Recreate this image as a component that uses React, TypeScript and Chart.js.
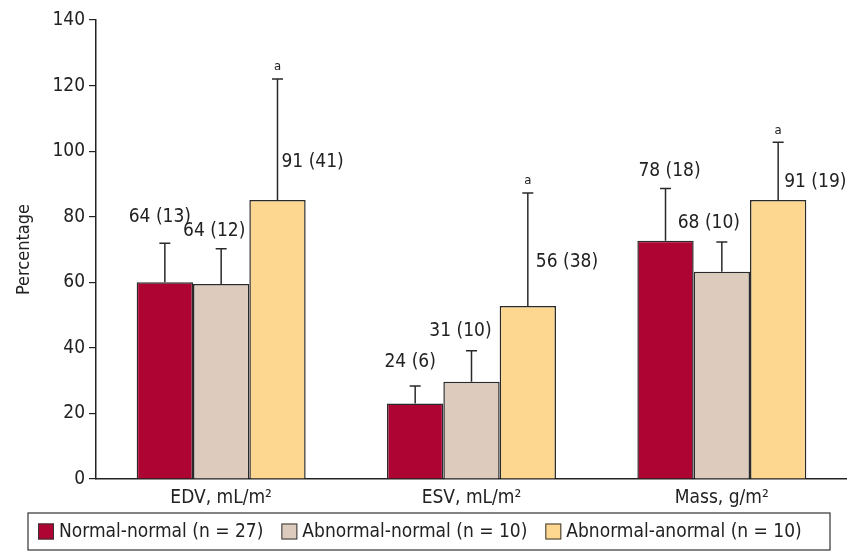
import React, { useEffect, useRef } from "react";
import { Chart, registerables } from "chart.js";

Chart.register(...registerables);

// ---------- data ----------
const categories = ["EDV, mL/m²", "ESV, mL/m²", "Mass, g/m²"];
const seriesNames = [
  "Normal-normal (n = 27)",
  "Abnormal-normal (n = 10)",
  "Abnormal-anormal (n = 10)",
];
const normalNormal = [60, 23, 72.7];
const abnormalNormal = [59.5, 29.7, 63.2];
const abnormalAnormal = [85.1, 52.8, 85.1];

const normalNormalUpper = [71.9, 28.4, 88.6];
const abnormalNormalUpper = [70.2, 39.1, 72.3];
const abnormalAnormalUpper = [122, 87.2, 102.7];

const normalNormalLabels = ["64 (13)", "24 (6)", "78 (18)"];
const abnormalNormalLabels = ["64 (12)", "31 (10)", "68 (10)"];
const abnormalAnormalLabels = ["91 (41)", "56 (38)", "91 (19)"];

const normalNormalSig = ["", "", ""];
const abnormalNormalSig = ["", "", ""];
const abnormalAnormalSig = ["a", "a", "a"];

const yMin = 0;
const yMax = 140;
const yStep = 20;

// ---------- styles ----------
const FONT = "'DejaVu Sans Condensed', 'Liberation Sans Narrow', 'Arial Narrow', sans-serif";
const TEXT = "#222";
const COLORS = ["#AE0433", "#DDCBBD", "#FDD78F"];
// label placement: [anchor, dx, dy]; anchor "err" = centered above whisker, "bar" = right of whisker above bar top
const LABEL_STYLE = [
  [["err", -5, -26], ["err", -5, -24], ["err", 4, -17]],
  [["err", -7, -18], ["err", -11, -20], ["err", -13, -19]],
  [["bar", 4, -38], ["bar", 8, -44], ["bar", 6, -18]],
];

const annotPlugin = {
  id: "annot",
  afterDatasetsDraw(chart: any) {
    const ctx = chart.ctx;
    const ys = chart.scales.y;
    chart.data.datasets.forEach((ds: any, i: number) => {
      const meta = chart.getDatasetMeta(i);
      meta.data.forEach((bar: any, j: number) => {
        const top = ys.getPixelForValue(ds.upper[j]);
        ctx.save();
        ctx.strokeStyle = "#2a2a2a";
        ctx.lineWidth = 1.5;
        ctx.beginPath();
        ctx.moveTo(bar.x, bar.y);
        ctx.lineTo(bar.x, top);
        ctx.moveTo(bar.x - 5.5, top);
        ctx.lineTo(bar.x + 5.5, top);
        ctx.stroke();

        ctx.fillStyle = TEXT;
        ctx.textBaseline = "middle";
        if (ds.sig[j]) {
          ctx.font = `13px ${FONT}`;
          ctx.textAlign = "center";
          ctx.fillText(ds.sig[j], bar.x, top - 12);
        }
        const [anchor, dx, dy] = LABEL_STYLE[i][j] as [string, number, number];
        ctx.font = `19px ${FONT}`;
        if (anchor === "err") {
          ctx.textAlign = "center";
          ctx.fillText(ds.valueLabels[j], bar.x + dx, top + dy);
        } else {
          ctx.textAlign = "left";
          ctx.fillText(ds.valueLabels[j], bar.x + dx, bar.y + dy);
        }
        ctx.restore();
      });
    });
  },
  afterDraw(chart: any) {
    const ctx = chart.ctx;
    const boxL = 28, boxT = 513, boxR = 830, boxB = 550;
    ctx.save();
    ctx.strokeStyle = "#333";
    ctx.lineWidth = 1.2;
    ctx.strokeRect(boxL, boxT, boxR - boxL, boxB - boxT);
    ctx.font = `19px ${FONT}`;
    ctx.textBaseline = "middle";
    ctx.textAlign = "left";
    let x = boxL + 10;
    const cy = (boxT + boxB) / 2;
    chart.data.datasets.forEach((ds: any) => {
      ctx.fillStyle = ds.backgroundColor;
      ctx.fillRect(x, cy - 8, 16, 16);
      ctx.strokeStyle = "#333";
      ctx.lineWidth = 1;
      ctx.strokeRect(x + 0.5, cy - 7.5, 15, 15);
      ctx.fillStyle = TEXT;
      ctx.fillText(ds.label, x + 21, cy + 1);
      x += 21 + ctx.measureText(ds.label).width + 18;
    });
    ctx.restore();
  },
};

export default function App() {
  const ref = useRef<HTMLCanvasElement | null>(null);
  useEffect(() => {
    if (!ref.current) return;
    const ticks: number[] = [];
    for (let v = yMin; v <= yMax; v += yStep) ticks.push(v);
    const mk = (k: number, data: number[], upper: number[], labels: string[], sig: string[]) => ({
      label: seriesNames[k],
      data,
      upper,
      valueLabels: labels,
      sig,
      backgroundColor: COLORS[k],
      borderColor: "#2a2a2a",
      borderWidth: 1.5,
      categoryPercentage: 0.675,
      barPercentage: 1.0,
    });
    const chart = new Chart(ref.current, {
      type: "bar",
      data: {
        labels: categories,
        datasets: [
          mk(0, normalNormal, normalNormalUpper, normalNormalLabels, normalNormalSig),
          mk(1, abnormalNormal, abnormalNormalUpper, abnormalNormalLabels, abnormalNormalSig),
          mk(2, abnormalAnormal, abnormalAnormalUpper, abnormalAnormalLabels, abnormalAnormalSig),
        ] as any,
      },
      options: {
        animation: false,
        responsive: true,
        maintainAspectRatio: false,
        layout: { padding: { top: 20, left: 0, right: 0, bottom: 0 } },
        plugins: { legend: { display: false }, tooltip: { enabled: false } },
        scales: {
          x: {
            grid: { display: false, drawTicks: false },
            border: { display: true, color: "#222", width: 1.5 },
            ticks: { color: TEXT, font: { family: FONT, size: 19 }, padding: 8 },
            afterFit: (s: any) => { s.height = 74; },
          },
          y: {
            min: yMin,
            max: yMax,
            afterBuildTicks: (s: any) => { s.ticks = ticks.map((v) => ({ value: v })); },
            grid: { drawOnChartArea: false, drawTicks: true, tickLength: 7, color: "#222", lineWidth: 1.2 },
            border: { display: true, color: "#222", width: 1.5 },
            ticks: { color: TEXT, font: { family: FONT, size: 19 }, padding: 4 },
            title: {
              display: true,
              text: "Percentage",
              color: TEXT,
              font: { family: FONT, size: 18 },
              padding: { top: 14, bottom: 0 },
            },
            afterFit: (s: any) => { s.width = 96; },
          },
        },
      } as any,
      plugins: [annotPlugin],
    });
    return () => chart.destroy();
  }, []);
  return (
    <div style={{ position: "fixed", left: 0, top: 0, width: 847, height: 553, background: "#fff" }}>
      <canvas ref={ref} />
    </div>
  );
}
